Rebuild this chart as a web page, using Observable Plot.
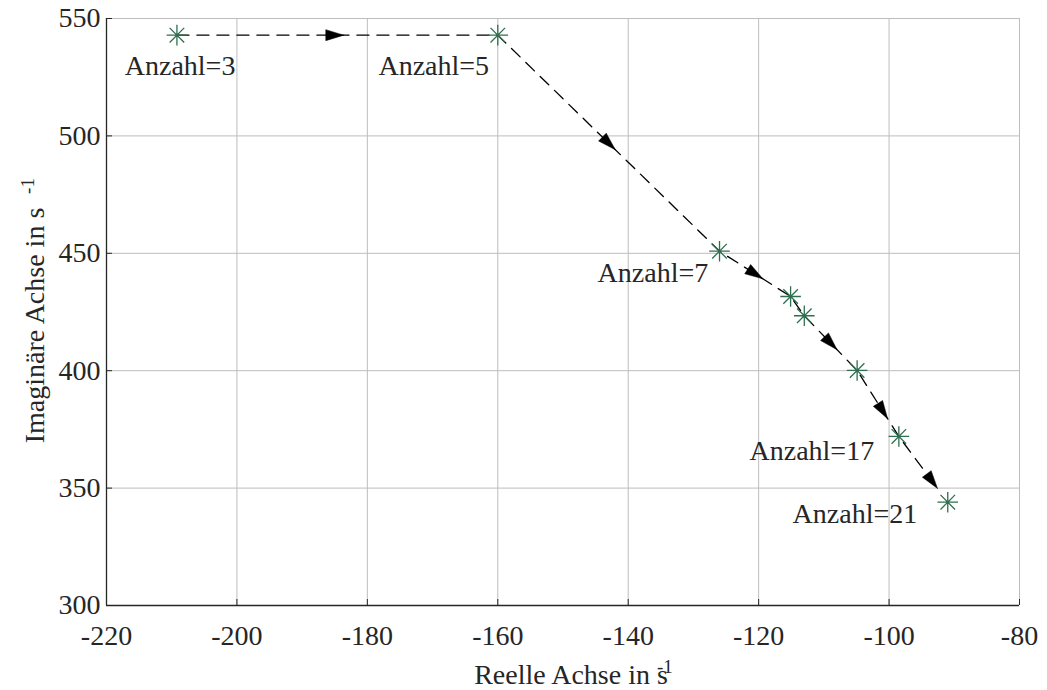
<!DOCTYPE html>
<html>
<head>
<meta charset="utf-8">
<script src="https://cdn.jsdelivr.net/npm/d3@7"></script>
<script src="https://cdn.jsdelivr.net/npm/@observablehq/plot@0.6"></script>
<style>
  body { margin: 0; background: #ffffff; }
  #chart svg, #chart svg g, #chart svg text {
    font-family: "Liberation Serif", "Times New Roman", "DejaVu Serif", serif !important;
  }
</style>
</head>
<body>
<div id="chart"></div>
<script>
// Pole positions (real part, imaginary part) as the element count grows
const reX = [-209.2, -160, -126, -115.1, -113, -104.9, -98.5, -91];
const imY = [542.9, 542.9, 450.9, 431.6, 423.4, 400.1, 372, 344];

// Where along each segment the arrowhead tip sits (null = no arrow)
const arrowT = [0.52, 0.53, 0.61, null, 0.62, 0.73, 0.79];

// Text annotations (data coordinates of the left edge / vertical middle)
const annText = ["Anzahl=3", "Anzahl=5", "Anzahl=7", "Anzahl=17", "Anzahl=21"];
const annX = [-217.2, -178.3, -144.7, -121.4, -114.8];
const annY = [529.6, 529.6, 441.8, 365.6, 338.8];

// Axis ticks
const xTicks = [-220, -200, -180, -160, -140, -120, -100, -80];
const yTicks = [300, 350, 400, 450, 500, 550];

const xTitle = "Reelle Achse in s";
const yTitle = "Imaginäre Achse in s";
const unitSup = "-1";

// Layout
const W = 1047, H = 690;
const mL = 106, mR = 28, mT = 18, mB = 85;
const xDomain = [-220, -80], yDomain = [300, 550];
const plotW = W - mL - mR, plotH = H - mT - mB;
const kx = plotW / (xDomain[1] - xDomain[0]);   // px per unit (x)
const ky = plotH / (yDomain[1] - yDomain[0]);   // px per unit (y)

const pts = reX.map((x, i) => ({x, y: imY[i]}));

// Arrowhead tips and triangle outlines
const tips = [];
arrowT.forEach((t, i) => {
  if (t == null) return;
  const a = pts[i], b = pts[i + 1];
  tips.push({x: a.x + t * (b.x - a.x), y: a.y + t * (b.y - a.y), a, b});
});
const L = 18, HW = 5.5;
const heads = [];
tips.forEach((tp, k) => {
  const dpx = (tp.b.x - tp.a.x) * kx, dpy = -(tp.b.y - tp.a.y) * ky;
  const len = Math.hypot(dpx, dpy);
  const ux = dpx / len, uy = dpy / len;
  const nx = -uy, ny = ux;
  const bx = -L * ux, by = -L * uy;
  const toData = (px, py) => ({x: tp.x + px / kx, y: tp.y - py / ky, k});
  heads.push(toData(0, 0), toData(bx + HW * nx, by + HW * ny), toData(bx - HW * nx, by - HW * ny), toData(0, 0));
});

// The dashed path runs through every pole and stops at the last arrow tip
const lastTip = tips[tips.length - 1];
const path = pts.slice(0, -1).concat([{x: lastTip.x, y: lastTip.y}]);

// Eight-armed asterisk marker
const asterisk = {
  draw(ctx, size) {
    const r = Math.sqrt(size / Math.PI), d = r / Math.SQRT2;
    ctx.moveTo(-r, 0); ctx.lineTo(r, 0);
    ctx.moveTo(0, -r); ctx.lineTo(0, r);
    ctx.moveTo(-d, -d); ctx.lineTo(d, d);
    ctx.moveTo(-d, d); ctx.lineTo(d, -d);
  }
};

const ann = annText.map((t, i) => ({t, x: annX[i], y: annY[i]}));

const grid = "#bdbdbd", ink = "#262626";
const font = "Liberation Serif";

const chart = Plot.plot({
  width: W, height: H,
  marginLeft: mL, marginRight: mR, marginTop: mT, marginBottom: mB,
  style: {fontFamily: "'Liberation Serif', serif", fontSize: "28px", color: ink, background: "#ffffff"},
  x: {domain: xDomain, ticks: xTicks, tickSize: 0, tickPadding: 20, tickFormat: d => String(d), label: null},
  y: {domain: yDomain, ticks: yTicks, tickSize: 0, tickPadding: 6, tickFormat: d => String(d), label: null},
  marks: [
    Plot.ruleX(xTicks, {stroke: grid, strokeWidth: 1}),
    Plot.ruleY(yTicks, {stroke: grid, strokeWidth: 1}),
    // inward tick marks
    Plot.ruleX(xTicks, {stroke: ink, strokeWidth: 1, insetTop: plotH - 6}),
    Plot.ruleY(yTicks, {stroke: ink, strokeWidth: 1, insetRight: plotW - 6}),
    // left and bottom spines
    Plot.ruleX([xDomain[0]], {stroke: ink, strokeWidth: 1.3}),
    Plot.ruleY([yDomain[0]], {stroke: ink, strokeWidth: 1.3}),
    Plot.line(path, {x: "x", y: "y", stroke: "#000", strokeWidth: 1.3, strokeDasharray: "12,8", curve: "linear"}),
    Plot.line(heads, {x: "x", y: "y", z: "k", fill: "#000", stroke: "#000", strokeWidth: 0.5}),
    Plot.dot(pts, {x: "x", y: "y", r: 10.3, symbol: asterisk, stroke: "#2f6f4f", strokeWidth: 1.3, fill: "none"}),
    Plot.text(ann, {x: "x", y: "y", text: "t", textAnchor: "start", lineAnchor: "middle", fontFamily: font, fontSize: 28, fill: ink}),
    // axis titles with unit exponent
    Plot.text([xTitle], {frameAnchor: "bottom", textAnchor: "middle", lineAnchor: "middle", dx: 8, dy: 70, fontFamily: font, fontSize: 28, fill: ink}),
    Plot.text([unitSup], {frameAnchor: "bottom", textAnchor: "start", lineAnchor: "middle", dx: 94, dy: 61, fontFamily: font, fontSize: 19, fill: ink}),
    Plot.text([yTitle], {frameAnchor: "left", textAnchor: "middle", lineAnchor: "middle", dx: -71, dy: 13.5, rotate: -90, fontFamily: font, fontSize: 28, fill: ink}),
    Plot.text([unitSup], {frameAnchor: "left", textAnchor: "middle", lineAnchor: "middle", dx: -79, dy: -126, rotate: -90, fontFamily: font, fontSize: 19, fill: ink})
  ]
});

document.getElementById("chart").appendChild(chart);
</script>
</body>
</html>
